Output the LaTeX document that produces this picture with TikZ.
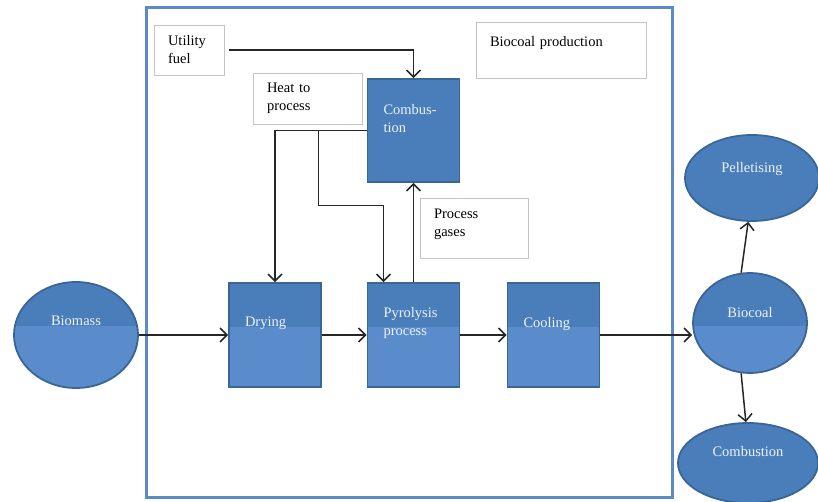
\documentclass[tikz,border=0pt]{standalone}
\usepackage{fontspec}
\setmainfont{Liberation Serif}
\usetikzlibrary{shapes.geometric,arrows.meta,positioning}
\definecolor{procblue}{HTML}{4A7EBB}
\definecolor{proclight}{HTML}{5A8CCB}
\definecolor{procedge}{HTML}{3A6696}
\definecolor{frameblue}{HTML}{5B8AC9}
\definecolor{boxgray}{HTML}{C4C4C4}
\definecolor{labwhite}{HTML}{EEF3FA}
\tikzset{
  stepbox/.style={rectangle, draw=procedge, line width=1.8pt, fill=procblue,
                  text=labwhite, align=left, text width=60pt,
                  minimum width=92pt, minimum height=104pt,
                  font=\fontsize{14.5}{18}\selectfont},
  endnode/.style={ellipse, draw=procedge, line width=1.8pt, fill=procblue,
                  text=labwhite, inner sep=0pt,
                  font=\fontsize{14.5}{18}\selectfont},
  notebox/.style={rectangle, draw=boxgray, line width=0.9pt, fill=white,
                  align=left, font=\fontsize{14.5}{18}\selectfont},
  lowband/.style={path picture={\fill[proclight]
                  ([yshift=-#1]path picture bounding box.north west)
                  rectangle (path picture bounding box.south east);}},
  flow/.style={-{Straight Barb[length=7pt,width=14pt]}, line width=1.5pt, black!85},
}
\begin{document}
\begin{tikzpicture}[x=1pt, y=-1pt]
\useasboundingbox (0,0) rectangle (818,502);

%% Biocoal production frame
\draw[frameblue, line width=3pt] (146,8) rectangle (672,497);

%% Process steps
\node[stepbox, lowband=44pt, text depth=26pt] (dry)  at (275,335)   {Drying};
\node[stepbox, lowband=44pt, text depth=46pt] (pyro) at (413.5,335) {Pyrolysis\\process};
\node[stepbox, lowband=44pt, text depth=26pt] (cool) at (553.5,335) {Cooling};
\node[stepbox, minimum height=103pt, text depth=43pt] (comb) at (413.5,130.5) {Combus-\\tion};

%% Notes
\node[notebox, text width=42pt, minimum width=70pt, minimum height=50pt]
     (util) at (189,50) {Utility\\fuel};
\node[notebox, text width=81pt, minimum width=109pt, minimum height=51pt]
     (heat) at (307.5,98.5) {Heat to\\process};
\node[notebox, text width=80pt, minimum width=108pt, minimum height=60pt, text depth=28pt]
     (gas) at (474,228) {Process\\gases};
\node[notebox, text width=142pt, minimum width=170pt, minimum height=56pt, text depth=18pt]
     (prod) at (561,50) {Biocoal production};

%% Input and products
\node[endnode, lowband=44pt, minimum width=124pt, minimum height=106pt, text depth=28pt]
     (bm) at (76,335) {Biomass};
\node[endnode, lowband=53pt, minimum width=114pt, minimum height=100pt, text depth=22pt]
     (bc) at (750,323) {Biocoal};
\node[endnode, minimum width=134pt, minimum height=86pt, text depth=22pt]
     (pel) at (752,178) {Pelletising};
\node[endnode, minimum width=140pt, minimum height=80pt, text depth=24pt]
     (burn) at (748,463) {Combustion};

%% Main line
\draw[flow] (bm.east) -- (dry.west);
\draw[flow] (dry.east) -- (pyro.west);
\draw[flow] (pyro.east) -- (cool.west);
\draw[flow] (cool.east) -- (cool.east -| bc.west);
\draw[flow] (bc.100) -- (pel.265);
\draw[flow] (bc.260) -- (burn.93);

%% Fuel, heat and gases
\draw[flow, shorten <=5pt] (util.east) -| (comb.north);
\draw[flow] (comb.west) -| (dry.north);
\coordinate[left=48pt of comb.west] (tap);
\draw[flow] (tap) -- ++(0,75) -| ([xshift=-30pt]pyro.north);
\draw[flow] (pyro.north) -- (comb.south);

\end{tikzpicture}
\end{document}
